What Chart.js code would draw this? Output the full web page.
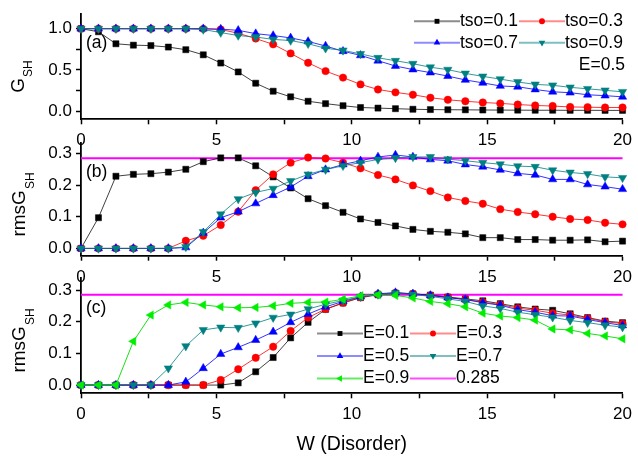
<!DOCTYPE html>
<html>
<head>
<meta charset="utf-8">
<script src="https://cdn.jsdelivr.net/npm/chart.js@4.4.0/dist/chart.umd.min.js"></script>
<style>
  html, body { margin: 0; padding: 0; background: #fff; }
  #wrap { position: relative; width: 638px; height: 456px; }
  #wrap canvas { position: absolute; left: 0; top: 0; }
</style>
</head>
<body>
<div id="wrap">
  <canvas id="panelA" width="638" height="456"></canvas>
  <canvas id="panelB" width="638" height="456"></canvas>
  <canvas id="panelC" width="638" height="456"></canvas>
</div>
<script>
//// Data

// disorder W (x axis), 32 samples 0..20
const disorder = [0, 0.645, 1.29, 1.935, 2.581, 3.226, 3.871, 4.516, 5.161, 5.806, 6.452, 7.097,
  7.742, 8.387, 9.032, 9.677, 10.323, 10.968, 11.613, 12.258, 12.903, 13.548, 14.194, 14.839,
  15.484, 16.129, 16.774, 17.419, 18.065, 18.71, 19.355, 20];

// (a) G_SH, E=0.5
const gTso01 = [1.0, 0.963, 0.817, 0.80, 0.795, 0.777, 0.745, 0.683, 0.583, 0.475, 0.338, 0.241, 0.173, 0.119, 0.09, 0.065,
  0.043, 0.036, 0.029, 0.022, 0.018, 0.016, 0.015, 0.013, 0.012, 0.011, 0.010, 0.010, 0.009, 0.009, 0.008, 0.008];
const gTso03 = [1, 1, 1, 1, 1, 1, 1, 0.998, 0.99, 0.945, 0.88, 0.81, 0.70, 0.586, 0.485, 0.406,
  0.324, 0.262, 0.227, 0.198, 0.162, 0.137, 0.119, 0.104, 0.093, 0.079, 0.068, 0.061, 0.05, 0.047, 0.043, 0.043];
const gTso07 = [1, 1, 1, 1, 1, 1, 1, 1, 0.995, 0.98, 0.94, 0.917, 0.888, 0.845, 0.79, 0.726,
  0.676, 0.611, 0.547, 0.504, 0.467, 0.424, 0.378, 0.342, 0.305, 0.295, 0.262, 0.234, 0.223, 0.198, 0.187, 0.173];
const gTso09 = [1, 1, 1, 1, 1, 1, 1, 0.99, 0.953, 0.917, 0.899, 0.87, 0.856, 0.817, 0.762, 0.737,
  0.694, 0.647, 0.611, 0.575, 0.532, 0.503, 0.457, 0.421, 0.388, 0.353, 0.324, 0.313, 0.288, 0.27, 0.252, 0.234];

// (b) rmsG_SH, E=0.5
const rTso01 = [0, 0.097, 0.228, 0.234, 0.236, 0.241, 0.25, 0.274, 0.286, 0.286, 0.261, 0.226, 0.191, 0.157, 0.135, 0.114,
  0.093, 0.082, 0.071, 0.06, 0.054, 0.051, 0.046, 0.034, 0.034, 0.028, 0.028, 0.026, 0.026, 0.027, 0.021, 0.023];
const rTso03 = [0, 0, 0, 0, 0, 0, 0.024, 0.04, 0.074, 0.116, 0.184, 0.234, 0.271, 0.287, 0.284, 0.271,
  0.253, 0.232, 0.218, 0.199, 0.181, 0.161, 0.150, 0.141, 0.124, 0.115, 0.108, 0.100, 0.093, 0.090, 0.081, 0.076];
const rTso07 = [0, 0, 0, 0, 0, 0, 0.003, 0.049, 0.097, 0.116, 0.142, 0.168, 0.194, 0.228, 0.249, 0.265,
  0.277, 0.289, 0.295, 0.289, 0.281, 0.277, 0.265, 0.258, 0.248, 0.237, 0.232, 0.218, 0.218, 0.202, 0.195, 0.187];
const rTso09 = [0, 0, 0, 0, 0, 0, 0.005, 0.052, 0.108, 0.156, 0.177, 0.189, 0.213, 0.234, 0.249, 0.261,
  0.271, 0.281, 0.286, 0.289, 0.289, 0.282, 0.277, 0.271, 0.266, 0.26, 0.258, 0.247, 0.24, 0.235, 0.226, 0.223];

// (c) rmsG_SH for several E
const rE01 = [0, 0, 0, 0, 0, 0, 0, 0, 0, 0.007, 0.042, 0.087, 0.149, 0.198, 0.239, 0.259,
  0.276, 0.285, 0.29, 0.288, 0.284, 0.278, 0.272, 0.266, 0.257, 0.247, 0.24, 0.236, 0.225, 0.213, 0.202, 0.197];
const rE03 = [0, 0, 0, 0, 0, 0, 0, 0, 0.016, 0.05, 0.086, 0.121, 0.171, 0.213, 0.24, 0.26,
  0.277, 0.287, 0.291, 0.288, 0.283, 0.277, 0.27, 0.262, 0.254, 0.243, 0.236, 0.227, 0.221, 0.211, 0.2, 0.194];
const rE05 = [0, 0, 0, 0, 0, 0, 0.01, 0.053, 0.098, 0.119, 0.142, 0.168, 0.198, 0.224, 0.247, 0.264,
  0.279, 0.288, 0.292, 0.288, 0.283, 0.276, 0.27, 0.26, 0.252, 0.238, 0.23, 0.219, 0.218, 0.207, 0.197, 0.188];
const rE07 = [0, 0, 0, 0, 0, 0.053, 0.123, 0.174, 0.182, 0.181, 0.195, 0.213, 0.223, 0.24, 0.255, 0.267,
  0.279, 0.286, 0.29, 0.286, 0.28, 0.272, 0.264, 0.25, 0.242, 0.23, 0.222, 0.214, 0.204, 0.197, 0.189, 0.183];
const rE09 = [0, 0, 0, 0.138, 0.221, 0.253, 0.261, 0.253, 0.247, 0.244, 0.245, 0.25, 0.258, 0.261, 0.262, 0.271,
  0.282, 0.285, 0.283, 0.275, 0.264, 0.257, 0.247, 0.227, 0.218, 0.213, 0.205, 0.177, 0.174, 0.163, 0.155, 0.146];

const refLevel = 0.285;
const xTickLabels = [0, 5, 10, 15, 20];

//// Styles
const FONT = '"Liberation Sans", Arial, sans-serif';
const styles = {
  k: { color: '#000000', line: 'rgba(0,0,0,0.75)', legend: 'rgba(0,0,0,0.45)', shape: 'rect', rot: 0, r: 4.3 },
  r: { color: '#ff0000', line: 'rgba(255,0,0,0.8)', legend: 'rgba(255,0,0,0.45)', shape: 'circle', rot: 0, r: 3.7 },
  b: { color: '#0000ff', line: 'rgba(0,0,255,0.8)', legend: 'rgba(0,0,255,0.45)', shape: 'triangle', rot: 0, r: 4.8 },
  t: { color: '#008080', line: 'rgba(0,128,128,0.8)', legend: 'rgba(0,128,128,0.5)', shape: 'triangle', rot: 180, r: 4.8 },
  g: { color: '#00ee00', line: 'rgba(0,220,0,0.9)', legend: 'rgba(0,220,0,0.6)', shape: 'triangle', rot: 270, r: 4.8 },
  m: { color: '#ff00ff', line: '#ff00ff', legend: 'rgba(255,0,255,0.7)', shape: false, rot: 0, r: 0 }
};

function series(label, ys, st, idx) {
  return {
    label: label,
    data: disorder.map((w, i) => ({ x: w, y: ys[i] })),
    borderColor: st.line,
    borderWidth: 1,
    backgroundColor: st.color,
    pointStyle: st.shape,
    pointRotation: st.rot,
    pointRadius: st.r,
    pointBackgroundColor: st.color,
    pointBorderColor: st.color,
    pointBorderWidth: 0.5,
    tension: 0,
    clip: false,
    order: -idx
  };
}

function refLine() {
  return {
    label: String(refLevel),
    data: [{ x: 0, y: refLevel }, { x: 20, y: refLevel }],
    borderColor: '#ff00ff',
    borderWidth: 2,
    pointRadius: 0,
    clip: false,
    order: 10
  };
}

// legend marker (same shapes as the chart points, a bit smaller)
function drawMarker(ctx, st, x, y) {
  if (!st.shape) return;
  const r = st.r * 0.8;
  ctx.fillStyle = st.color;
  ctx.beginPath();
  if (st.shape === 'rect') {
    const s = Math.SQRT1_2 * r;
    ctx.rect(x - s, y - s, 2 * s, 2 * s);
  } else if (st.shape === 'circle') {
    ctx.arc(x, y, r, 0, Math.PI * 2);
  } else {
    let rad = st.rot * Math.PI / 180;
    ctx.moveTo(x + Math.sin(rad) * r, y - Math.cos(rad) * r);
    rad += 2 * Math.PI / 3;
    ctx.lineTo(x + Math.sin(rad) * r, y - Math.cos(rad) * r);
    rad += 2 * Math.PI / 3;
    ctx.lineTo(x + Math.sin(rad) * r, y - Math.cos(rad) * r);
    ctx.closePath();
  }
  ctx.fill();
}

const decorPlugin = {
  id: 'decor',
  afterDraw(chart, args, o) {
    const ctx = chart.ctx;
    // rotated y title with subscript
    ctx.save();
    ctx.fillStyle = '#000';
    ctx.translate(o.titleX, o.titleY);
    ctx.rotate(-Math.PI / 2);
    ctx.textBaseline = 'alphabetic';
    ctx.textAlign = 'left';
    ctx.font = '19px ' + FONT;
    const wMain = ctx.measureText(o.title[0]).width;
    ctx.font = '12px ' + FONT;
    const wSub = ctx.measureText(o.title[1]).width;
    const x0 = -(wMain + wSub) / 2;
    ctx.font = '19px ' + FONT;
    ctx.fillText(o.title[0], x0, 0);
    ctx.font = '12px ' + FONT;
    ctx.fillText(o.title[1], x0 + wMain + 1, 8.5);
    ctx.restore();

    // panel tag
    ctx.save();
    ctx.fillStyle = '#000';
    ctx.font = '17.5px ' + FONT;
    ctx.textBaseline = 'middle';
    ctx.fillText(o.tag, 86, o.tagY);
    ctx.restore();

    // legend entries
    ctx.save();
    ctx.font = '17.5px ' + FONT;
    ctx.textBaseline = 'middle';
    (o.legend || []).forEach(it => {
      const st = styles[it.s];
      ctx.strokeStyle = st.legend;
      ctx.lineWidth = 2;
      ctx.beginPath();
      ctx.moveTo(it.x, it.y);
      ctx.lineTo(it.x + 46, it.y);
      ctx.stroke();
      drawMarker(ctx, st, it.x + 23, it.y);
      ctx.fillStyle = '#000';
      ctx.textAlign = 'left';
      ctx.fillText(it.label, it.x + 46, it.y);
    });
    (o.notes || []).forEach(n => {
      ctx.fillStyle = '#000';
      ctx.textAlign = 'right';
      ctx.fillText(n.text, n.x, n.y);
    });
    ctx.restore();
  }
};

function makePanel(id, p) {
  const xHeight = 456 - p.bottom;
  return new Chart(document.getElementById(id), {
    type: 'line',
    data: { datasets: p.datasets },
    plugins: [decorPlugin],
    options: {
      responsive: false,
      animation: false,
      events: [],
      layout: { padding: { left: 0, right: 9, top: p.top, bottom: 0 } },
      plugins: {
        legend: { display: false },
        tooltip: { enabled: false },
        decor: p.decor
      },
      scales: {
        x: {
          type: 'linear', min: 0, max: 20,
          ticks: {
            stepSize: 2.5, autoSkip: false, maxRotation: 0, color: '#000', padding: 6,
            font: { family: FONT, size: 17 },
            callback: v => xTickLabels.includes(v) ? String(v) : ''
          },
          grid: { drawOnChartArea: false, tickLength: 5, tickColor: '#000', tickWidth: 1.5 },
          border: { color: '#000', width: 1.8 },
          title: p.xTitle ? {
            display: true, text: p.xTitle, color: '#000',
            font: { family: FONT, size: 19.5 }, padding: { top: 0, bottom: 0 }
          } : { display: false },
          afterFit: s => { s.height = xHeight; }
        },
        y: {
          min: p.yMin, max: p.yMax,
          ticks: {
            stepSize: p.minor, includeBounds: false, color: '#000', padding: 4,
            font: { family: FONT, size: 17 },
            callback: v => {
              const k = v / p.major;
              return Math.abs(k - Math.round(k)) < 1e-6 ? v.toFixed(1) : '';
            }
          },
          grid: { drawOnChartArea: false, tickLength: 5, tickColor: '#000', tickWidth: 1.5 },
          border: { color: '#000', width: 1.8 },
          afterFit: s => { s.width = 81; }
        }
      }
    }
  });
}

window.onload = () => {
  makePanel('panelA', {
    top: 1, bottom: 119.3, yMin: -0.1, yMax: 1.176, minor: 0.25, major: 0.5,
    datasets: [
      series('tso=0.1', gTso01, styles.k, 0),
      series('tso=0.3', gTso03, styles.r, 1),
      series('tso=0.7', gTso07, styles.b, 2),
      series('tso=0.9', gTso09, styles.t, 3)
    ],
    decor: {
      title: ['G', 'SH'], titleX: 23.5, titleY: 77, tag: '(a)', tagY: 43,
      legend: [
        { label: 'tso=0.1', s: 'k', x: 414, y: 21.3 },
        { label: 'tso=0.3', s: 'r', x: 519, y: 21.3 },
        { label: 'tso=0.7', s: 'b', x: 414, y: 42.7 },
        { label: 'tso=0.9', s: 't', x: 519, y: 42.7 }
      ],
      notes: [{ text: 'E=0.5', x: 625, y: 65 }]
    }
  });

  makePanel('panelB', {
    top: 143, bottom: 255.7, yMin: -0.023, yMax: 0.333, minor: 0.05, major: 0.1,
    datasets: [
      refLine(),
      series('tso=0.1', rTso01, styles.k, 0),
      series('tso=0.3', rTso03, styles.r, 1),
      series('tso=0.7', rTso07, styles.b, 2),
      series('tso=0.9', rTso09, styles.t, 3)
    ],
    decor: { title: ['rmsG', 'SH'], titleX: 25, titleY: 205, tag: '(b)', tagY: 172 }
  });

  makePanel('panelC', {
    top: 278, bottom: 393.3, yMin: -0.026, yMax: 0.338, minor: 0.05, major: 0.1,
    xTitle: 'W (Disorder)',
    datasets: [
      refLine(),
      series('E=0.1', rE01, styles.k, 0),
      series('E=0.3', rE03, styles.r, 1),
      series('E=0.5', rE05, styles.b, 2),
      series('E=0.7', rE07, styles.t, 3),
      series('E=0.9', rE09, styles.g, 4)
    ],
    decor: {
      title: ['rmsG', 'SH'], titleX: 25, titleY: 341, tag: '(c)', tagY: 308.5,
      legend: [
        { label: 'E=0.1', s: 'k', x: 317, y: 333.5 },
        { label: 'E=0.3', s: 'r', x: 410, y: 333.5 },
        { label: 'E=0.5', s: 'b', x: 317, y: 356 },
        { label: 'E=0.7', s: 't', x: 410, y: 356 },
        { label: 'E=0.9', s: 'g', x: 317, y: 378.5 },
        { label: String(refLevel), s: 'm', x: 410, y: 378.5 }
      ]
    }
  });
};
</script>
</body>
</html>
